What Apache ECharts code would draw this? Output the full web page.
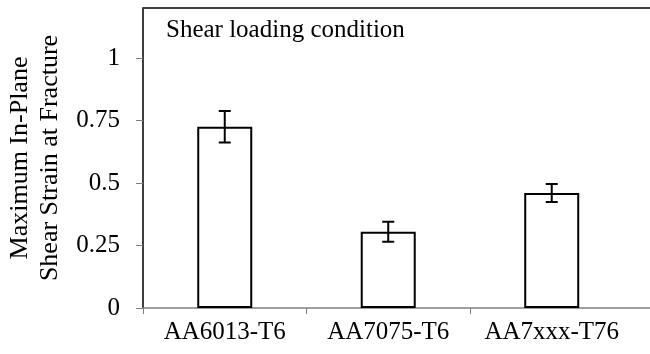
<!DOCTYPE html>
<html>
<head>
<meta charset="utf-8">
<script src="https://cdn.jsdelivr.net/npm/echarts@6/dist/echarts.min.js"></script>
<style>html,body{margin:0;padding:0;background:#fff;overflow:hidden;}#c{width:650px;height:354px;}</style>
</head>
<body>
<div id="c"></div>
<script>
var categories = ['AA6013-T6', 'AA7075-T6', 'AA7xxx-T76'];
var values = [0.725, 0.305, 0.46];
var errors = [0.063, 0.04, 0.036];
var yTicks = [0, 0.25, 0.5, 0.75, 1];
var yMax = 1.2;
var titleText = 'Shear loading condition';
var yName = 'Maximum In-Plane\nShear Strain at Fracture';

var FONT = '"Liberation Serif", "Times New Roman", serif';
var barData = values.map(function (v, i) { return [i, v]; });
var errData = values.map(function (v, i) { return [i, v - errors[i], v + errors[i]]; });

var chart = echarts.init(document.getElementById('c'), null, { renderer: 'canvas' });
chart.setOption({
  animation: false,
  backgroundColor: '#fff',
  title: {
    text: titleText,
    left: 161,
    top: 13,
    textStyle: { fontFamily: FONT, fontSize: 25, fontWeight: 'normal', color: '#000' }
  },
  grid: {
    left: 143, top: 8, bottom: 46, right: -8,
    outerBoundsMode: 'none',
    containLabel: false,
    show: false
  },
  xAxis: {
    type: 'value',
    min: -0.5, max: 2.65,
    splitLine: { show: false },
    axisLine: { show: true, onZero: false, lineStyle: { color: '#808080', width: 1.5 } },
    axisTick: { show: true, length: 6, customValues: [-0.5, 0.5, 1.5], lineStyle: { color: '#808080', width: 1 } },
    axisLabel: {
      customValues: [0, 1, 2],
      formatter: function (v) { return categories[Math.round(v)] || ''; },
      fontFamily: FONT, fontSize: 25, color: '#000', margin: 12
    }
  },
  yAxis: {
    type: 'value',
    min: 0, max: yMax, interval: 0.25,
    name: yName,
    nameLocation: 'middle',
    nameRotate: 90,
    nameGap: 64,
    nameTextStyle: { fontFamily: FONT, fontSize: 26, color: '#000', lineHeight: 30, align: 'center' },
    splitLine: { show: false },
    axisLine: { show: true, onZero: false, lineStyle: { color: '#404040', width: 2 } },
    axisTick: { show: true, length: 7, customValues: yTicks, lineStyle: { color: '#808080', width: 1 } },
    axisLabel: {
      customValues: yTicks,
      formatter: function (v) { return String(v); },
      fontFamily: FONT, fontSize: 25, color: '#000', margin: 23
    }
  },
  series: [
    {
      type: 'bar',
      data: barData,
      barWidth: 55,
      itemStyle: { color: '#fff', borderColor: '#000', borderWidth: 2 },
      z: 2,
      markLine: {
        silent: true,
        symbol: 'none',
        label: { show: false },
        lineStyle: { color: '#404040', width: 2, type: 'solid' },
        data: [{ yAxis: yMax }]
      }
    },
    {
      type: 'custom',
      data: errData,
      z: 3,
      renderItem: function (params, api) {
        var x = api.value(0);
        var lo = api.coord([x, api.value(1)]);
        var hi = api.coord([x, api.value(2)]);
        var cap = 6;
        function st() { return { stroke: '#000', lineWidth: 2, fill: null }; }
        return {
          type: 'group',
          children: [
            { type: 'line', shape: { x1: lo[0], y1: lo[1], x2: hi[0], y2: hi[1] }, style: st() },
            { type: 'line', shape: { x1: hi[0] - cap, y1: hi[1], x2: hi[0] + cap, y2: hi[1] }, style: st() },
            { type: 'line', shape: { x1: lo[0] - cap, y1: lo[1], x2: lo[0] + cap, y2: lo[1] }, style: st() }
          ]
        };
      },
      encode: { x: 0, y: [1, 2] }
    }
  ]
});
</script>
</body>
</html>
